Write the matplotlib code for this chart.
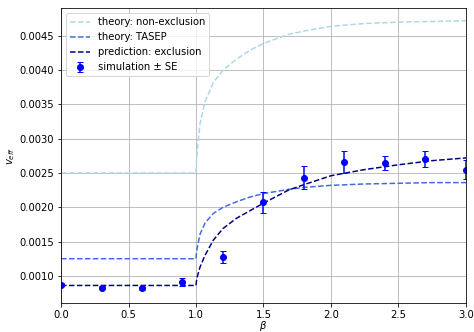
import matplotlib
matplotlib.use('Agg')
import matplotlib.pyplot as plt

# beta grid for the theory / prediction curves
beta_curve = [0.0, 1.0, 1.003, 1.01, 1.03, 1.067, 1.128, 1.2, 1.3, 1.4, 1.5,
              1.684, 1.8, 2.0, 2.25, 2.5, 2.75, 3.0]
v_nonexcl = [0.0025, 0.0025, 0.00265, 0.00284, 0.00322, 0.00354, 0.00382,
             0.00400, 0.00416, 0.00429, 0.00439, 0.00452, 0.00457, 0.00464,
             0.00468, 0.00470, 0.00471, 0.00472]
v_tasep = [0.00125, 0.00125, 0.00133, 0.00142, 0.00161, 0.00177, 0.00191,
           0.00200, 0.00208, 0.00215, 0.00220, 0.00226, 0.00229, 0.00232,
           0.00234, 0.00235, 0.00236, 0.00236]
v_excl = [0.00086, 0.00086, 0.00092, 0.00099, 0.00113, 0.00130, 0.00152,
          0.00169, 0.00184, 0.00195, 0.00206, 0.00225, 0.00233, 0.00246,
          0.00255, 0.00262, 0.00268, 0.00272]

# simulation results
beta_sim = [0.0, 0.3, 0.6, 0.9, 1.2, 1.5, 1.8, 2.1, 2.4, 2.7, 3.0]
v_sim = [0.000874, 0.000825, 0.000816, 0.000912, 0.001275, 0.002072,
         0.002431, 0.002656, 0.002642, 0.002704, 0.002548]
v_se = [0.00002, 0.00002, 0.00002, 0.00006, 0.000085, 0.000155,
        0.00017, 0.00016, 0.0001, 0.00012, 0.00014]

fig = plt.figure(figsize=(474 / 72, 332 / 72), dpi=72)
ax = fig.add_axes([0.1287, 0.0873, 0.8544, 0.8886])

ax.plot(beta_curve, v_nonexcl, '--', color='lightblue',
        label='theory: non-exclusion')
ax.plot(beta_curve, v_tasep, '--', color='royalblue', label='theory: TASEP')
ax.plot(beta_curve, v_excl, '--', color='navy', label='prediction: exclusion')
ax.errorbar(beta_sim, v_sim, yerr=v_se, fmt='o', color='blue', capsize=3,
            label='simulation ± SE')

ax.set_xlim(0, 3)
ax.set_ylim(0.000604, 0.004906)
ax.set_xlabel(r'$\beta$', labelpad=-1)
ax.set_ylabel(r'$v_{eff}$', labelpad=2)
ax.grid(True)
ax.legend(loc='upper left')

fig.savefig('out.png', dpi=72)
